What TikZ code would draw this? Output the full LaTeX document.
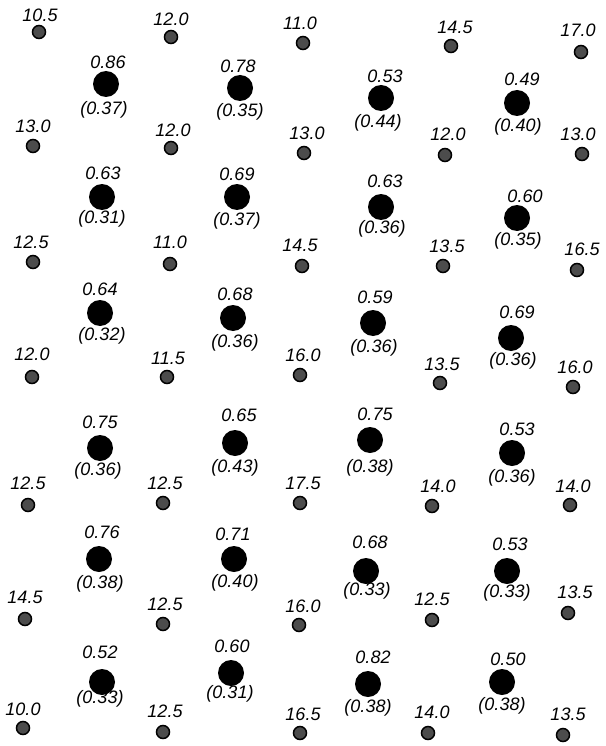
\documentclass[tikz,border=0pt]{standalone}
\usepackage{fontspec}
\setmainfont{Liberation Sans}
\tikzset{
  sdot/.style={circle, draw=black, line width=1.5pt, fill=black!70, minimum size=13pt, inner sep=0pt},
  bdot/.style={circle, fill=black, minimum size=26pt, inner sep=0pt},
  lab/.style={font=\fontsize{18}{18}\selectfont\itshape, inner sep=0pt}
}
\newcommand\sd[6]{\node[sdot] (#1) at (#2,#3) {}; \node[lab] (#1t) at (#5,#6) {#4};}
\newcommand\bd[9]{\node[bdot] (#1) at (#2,#3) {}; \node[lab] (#1t) at (#5,#6) {#4}; \node[lab] (#1b) at (#8,#9) {#7};}
\begin{document}
\begin{tikzpicture}[x=1pt,y=-1pt]
\useasboundingbox (0,0) rectangle (605,746);
% small dots
\sd{sa1}{39}{32}{10.5}{40}{15}
\sd{sa2}{171}{37}{12.0}{171}{19}
\sd{sa3}{303}{43}{11.0}{300}{23}
\sd{sa4}{451}{46}{14.5}{455}{27}
\sd{sa5}{581}{52}{17.0}{578}{30}
\sd{sb1}{33}{146}{13.0}{33}{126}
\sd{sb2}{171}{148}{12.0}{173}{130}
\sd{sb3}{304}{153}{13.0}{307}{133}
\sd{sb4}{445}{155}{12.0}{448}{134}
\sd{sb5}{582}{154}{13.0}{578}{134}
\sd{sc1}{33}{262}{12.5}{31}{242}
\sd{sc2}{170}{264}{11.0}{170}{242}
\sd{sc3}{302}{266}{14.5}{300}{245}
\sd{sc4}{443}{266}{13.5}{447}{246}
\sd{sc5}{577}{270}{16.5}{582}{249}
\sd{sd1}{32}{377}{12.0}{32}{354}
\sd{sd2}{167}{377}{11.5}{168}{358}
\sd{sd3}{300}{375}{16.0}{303}{355}
\sd{sd4}{440}{383}{13.5}{442}{364}
\sd{sd5}{573}{387}{16.0}{575}{367}
\sd{se1}{28}{505}{12.5}{28}{483}
\sd{se2}{163}{503}{12.5}{165}{483}
\sd{se3}{300}{503}{17.5}{303}{483}
\sd{se4}{432}{506}{14.0}{438}{486}
\sd{se5}{570}{505}{14.0}{573}{486}
\sd{sf1}{25}{619}{14.5}{25}{597}
\sd{sf2}{163}{624}{12.5}{165}{604}
\sd{sf3}{299}{625}{16.0}{303}{606}
\sd{sf4}{432}{620}{12.5}{432}{599}
\sd{sf5}{568}{613}{13.5}{575}{592}
\sd{sg1}{23}{728}{10.0}{23}{709}
\sd{sg2}{163}{732}{12.5}{165}{711}
\sd{sg3}{300}{733}{16.5}{303}{714}
\sd{sg4}{428}{733}{14.0}{432}{712}
\sd{sg5}{563}{735}{13.5}{568}{714}
% big dots
\bd{ba1}{106}{84}{0.86}{108}{62}{(0.37)}{104}{110}
\bd{ba2}{240}{88}{0.78}{238}{66}{(0.35)}{240}{112}
\bd{ba3}{381}{98}{0.53}{385}{76}{(0.44)}{378}{123}
\bd{ba4}{517}{103}{0.49}{522}{79}{(0.40)}{518}{127}
\bd{bb1}{102}{197}{0.63}{103}{173}{(0.31)}{102}{219}
\bd{bb2}{237}{197}{0.69}{237}{174}{(0.37)}{237}{221}
\bd{bb3}{381}{207}{0.63}{385}{181}{(0.36)}{382}{229}
\bd{bb4}{517}{218}{0.60}{525}{196}{(0.35)}{518}{241}
\bd{bc1}{100}{313}{0.64}{100}{289}{(0.32)}{102}{336}
\bd{bc2}{233}{318}{0.68}{235}{294}{(0.36)}{235}{343}
\bd{bc3}{373}{323}{0.59}{375}{297}{(0.36)}{374}{348}
\bd{bc4}{511}{338}{0.69}{517}{312}{(0.36)}{513}{361}
\bd{bd1}{100}{448}{0.75}{100}{422}{(0.36)}{98}{471}
\bd{bd2}{235}{443}{0.65}{239}{415}{(0.43)}{235}{468}
\bd{bd3}{370}{440}{0.75}{375}{414}{(0.38)}{370}{468}
\bd{bd4}{512}{453}{0.53}{517}{429}{(0.36)}{512}{478}
\bd{be1}{99}{559}{0.76}{102}{532}{(0.38)}{100}{584}
\bd{be2}{234}{559}{0.71}{233}{534}{(0.40)}{235}{583}
\bd{be3}{366}{571}{0.68}{370}{542}{(0.33)}{367}{591}
\bd{be4}{507}{571}{0.53}{510}{544}{(0.33)}{507}{593}
\bd{bf1}{102}{682}{0.52}{100}{652}{(0.33)}{100}{699}
\bd{bf2}{231}{673}{0.60}{232}{646}{(0.31)}{230}{694}
\bd{bf3}{368}{684}{0.82}{373}{657}{(0.38)}{368}{708}
\bd{bf4}{502}{682}{0.50}{508}{659}{(0.38)}{502}{706}
\end{tikzpicture}
\end{document}
